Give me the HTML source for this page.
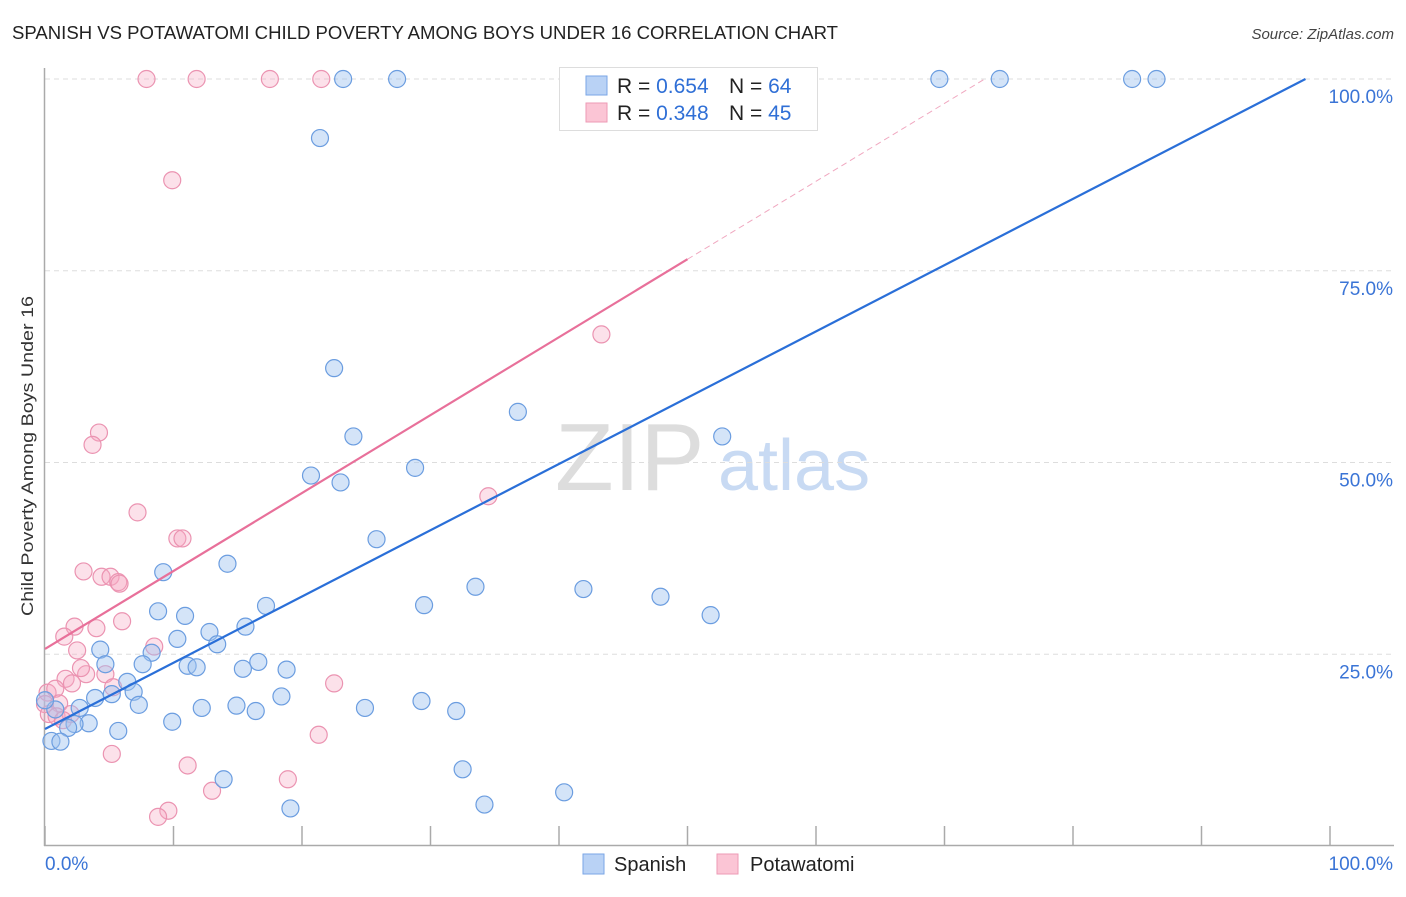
<!DOCTYPE html>
<html><head><meta charset="utf-8"><style>
body{margin:0;background:#fff;font-family:"Liberation Sans",sans-serif;}
svg text{font-family:"Liberation Sans",sans-serif;}
</style></head><body>
<svg id="chart" width="1406" height="892">
<text x="12" y="39" font-size="18" fill="#222" textLength="826" lengthAdjust="spacingAndGlyphs">SPANISH VS POTAWATOMI CHILD POVERTY AMONG BOYS UNDER 16 CORRELATION CHART</text>
<text x="1394" y="39" font-size="15" fill="#444" font-style="italic" text-anchor="end">Source: ZipAtlas.com</text>
<g>
<text x="555" y="490" font-size="96" fill="#ddd" font-family="Liberation Serif">ZIP</text>
<text x="718" y="490" font-size="72" fill="#c8daf3">atlas</text>
</g>
<g id="grid"></g>
<g id="axes"></g>
<g id="marks"></g>
<text x="33" y="456" font-size="17" fill="#333" text-anchor="middle" transform="rotate(-90 33 456)" textLength="320" lengthAdjust="spacingAndGlyphs">Child Poverty Among Boys Under 16</text>
<g>
<rect x="559.5" y="67.5" width="258" height="63" fill="#fff" stroke="#ddd"/>
<rect x="586" y="76" width="21" height="19" fill="#b9d2f5" stroke="#7aa6e6"/>
<rect x="586" y="103" width="21" height="19" fill="#fbc5d5" stroke="#ee9ab5"/>
<text x="617" y="93" font-size="21" fill="#222">R = <tspan fill="#2f6fd6">0.654</tspan></text>
<text x="729" y="93" font-size="21" fill="#222">N = <tspan fill="#2f6fd6">64</tspan></text>
<text x="617" y="120" font-size="21" fill="#222">R = <tspan fill="#2f6fd6">0.348</tspan></text>
<text x="729" y="120" font-size="21" fill="#222">N = <tspan fill="#2f6fd6">45</tspan></text>
</g>
<g>
<rect x="583" y="854" width="21" height="20" fill="#b9d2f5" stroke="#7aa6e6"/>
<text x="614" y="871" font-size="20" fill="#222">Spanish</text>
<rect x="717" y="854" width="21" height="20" fill="#fbc5d5" stroke="#ee9ab5"/>
<text x="750" y="871" font-size="20" fill="#222">Potawatomi</text>
</g>
</svg>
<script>
const spanishX=[23.2,27.4,69.6,74.3,84.6,86.5,21.4,22.5,36.8,52.7,24.0,20.7,23.0,28.8,25.8,9.2,14.2,33.5,41.9,47.9,51.8,29.5,8.8,10.9,17.2,12.8,15.6,10.3,13.4,8.3,4.3,4.7,7.6,11.1,11.8,15.4,16.6,18.8,6.4,6.9,5.2,3.9,18.4,29.3,7.3,2.7,12.2,14.9,16.4,24.9,32.0,0.8,3.4,9.9,2.3,1.8,5.7,0.5,1.2,32.5,13.9,19.1,34.2,40.4,0.0];
const spanishY=[100,100,100,100,100,100,92.3,62.3,56.6,53.4,53.4,48.3,47.4,49.3,40.0,35.7,36.8,33.8,33.5,32.5,30.1,31.4,30.6,30.0,31.3,27.9,28.6,27.0,26.3,25.2,25.6,23.7,23.7,23.5,23.3,23.1,24.0,23.0,21.4,20.1,19.8,19.3,19.5,18.9,18.4,18.0,18.0,18.3,17.6,18.0,17.6,17.8,16.0,16.2,15.9,15.4,15.0,13.7,13.6,10.0,8.7,4.9,5.4,7.0,19.0];
const potX=[7.9,11.8,17.5,21.5,9.9,43.3,4.2,3.7,34.5,7.2,10.3,10.7,3.0,4.4,5.1,5.7,5.8,6.0,4.0,2.3,1.5,8.5,2.5,1.6,2.1,3.2,4.7,2.8,5.3,0.2,0.8,0.0,1.1,0.3,0.9,2.0,1.4,22.5,21.3,5.2,11.1,18.9,13.0,9.6,8.8];
const potY=[100,100,100,100,86.8,66.7,53.9,52.3,45.6,43.5,40.1,40.1,35.8,35.1,35.1,34.4,34.2,29.3,28.4,28.6,27.3,26.0,25.5,21.8,21.2,22.4,22.4,23.2,20.7,20.0,20.5,18.5,18.6,17.2,16.9,17.2,16.4,21.2,14.5,12.0,10.5,8.7,7.2,4.6,3.8];
const xTicks=[0,10,20,30,40,50,60,70,80,90,100];
const yTicks=[25,50,75,100];
const yTickLabels=["25.0%","50.0%","75.0%","100.0%"];
const xEndLabels=["0.0%","100.0%"];
const spanishFit=[15.25,0.864];   // intercept, slope (percent)
const potFit=[25.7,1.016];

const NS="http://www.w3.org/2000/svg";
const X0=45,X1=1330,Y0=846,Y1=79;
const sx=v=>X0+(X1-X0)*v/100;
const sy=v=>Y0-(Y0-Y1)*v/100;
function mk(tag,attrs,parent){const e=document.createElementNS(NS,tag);for(const k in attrs)e.setAttribute(k,attrs[k]);document.getElementById(parent).appendChild(e);return e;}

yTicks.forEach((t,i)=>{
  const g=mk('line',{x1:X0,x2:1394,y1:sy(t),y2:sy(t),stroke:'#ddd','stroke-dasharray':'5,4'},'grid');
  
  
  const l=mk('text',{x:1393,y:sy(t)+24,'font-size':19,fill:'#3a74d6','text-anchor':'end'},'axes');
  l.textContent=yTickLabels[i];
  
  
});
const ya=mk('line',{x1:X0-0.5,x2:X0-0.5,y1:68,y2:Y0,stroke:'#aaa','stroke-width':1.5},'axes');


const xa=mk('line',{x1:X0-1,x2:1394,y1:Y0-0.5,y2:Y0-0.5,stroke:'#aaa','stroke-width':1.5},'axes');


xTicks.forEach(t=>{
  const k=mk('line',{x1:sx(t),x2:sx(t),y1:Y0-20,y2:Y0,stroke:'#aaa','stroke-width':1.5},'axes');
  
  
});
const xl0=mk('text',{x:45,y:870,'font-size':19,fill:'#3a74d6'},'axes');xl0.textContent=xEndLabels[0];


const xl1=mk('text',{x:1393,y:870,'font-size':19,fill:'#3a74d6','text-anchor':'end'},'axes');xl1.textContent=xEndLabels[1];



potX.forEach((x,i)=>{
  const c=mk('circle',{cx:sx(x),cy:sy(potY[i]),r:8.5,fill:'rgba(246,170,195,0.35)',stroke:'#eb93b1','stroke-width':1.2},'marks');
  
  
});
spanishX.forEach((x,i)=>{
  const c=mk('circle',{cx:sx(x),cy:sy(spanishY[i]),r:8.5,fill:'rgba(160,195,240,0.45)',stroke:'#6b9de0','stroke-width':1.2},'marks');
  
  
});
const bx2=(100-spanishFit[0])/spanishFit[1];
const bl=mk('line',{x1:sx(0),y1:sy(spanishFit[0]),x2:sx(bx2),y2:sy(100),stroke:'#2a6fd8','stroke-width':2.2},'marks');


const pxEnd=50;
const pl=mk('line',{x1:sx(0),y1:sy(potFit[0]),x2:sx(pxEnd),y2:sy(potFit[0]+potFit[1]*pxEnd),stroke:'#e8709a','stroke-width':2.2},'marks');


const px2=(100-potFit[0])/potFit[1];
const pd=mk('line',{x1:sx(pxEnd),y1:sy(potFit[0]+potFit[1]*pxEnd),x2:sx(px2),y2:sy(100),stroke:'#f0a8c0','stroke-width':1,'stroke-dasharray':'6,4'},'marks');


</script>
</body></html>
